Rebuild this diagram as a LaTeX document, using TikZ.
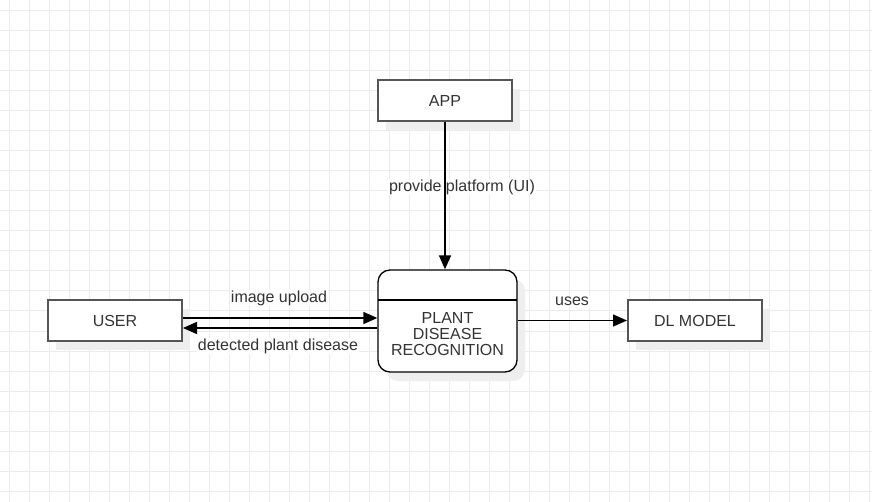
\documentclass[tikz,border=0pt]{standalone}
\usepackage{fontspec}
\setmainfont{Liberation Sans}
\usetikzlibrary{arrows.meta,shadows,calc}
\definecolor{gridc}{HTML}{EBEBEB}
\definecolor{boxc}{HTML}{555555}
\definecolor{txtc}{HTML}{333333}
\definecolor{shc}{HTML}{EEEEEE}
\tikzset{
  ent/.style={draw=boxc, line width=2pt, fill=white, minimum width=134pt, minimum height=41pt,
    inner sep=0pt, font=\fontsize{16}{18}\selectfont, text=txtc,
    drop shadow={shadow xshift=8pt, shadow yshift=-9pt, fill=shc, opacity=1}},
  proc/.style={draw=black, line width=1.3pt, fill=white, rounded corners=12pt, minimum width=139pt,
    minimum height=102pt, inner sep=0pt,
    drop shadow={shadow xshift=8pt, shadow yshift=-9pt, fill=shc, opacity=1}},
  proctext/.style={align=center, font=\fontsize{16}{16}\selectfont, text=txtc, inner sep=0pt},
  flow/.style={draw=black, line width=1.5pt, -{Triangle[length=14pt,width=12pt]}},
  lbl/.style={font=\fontsize{16}{18}\selectfont, text=txtc, inner sep=1pt, fill=white}
}
\begin{document}
\begin{tikzpicture}[x=1pt,y=-1pt]
\useasboundingbox (0,0) rectangle (872,502);
\fill[white] (0,0) rectangle (872,502);
% grid
\foreach \gx in {9,29,...,869} \draw[gridc, line width=1pt] (\gx,0) -- (\gx,502);
\foreach \gy in {11,31,...,491} \draw[gridc, line width=1pt] (0,\gy) -- (872,\gy);

% nodes
\node[ent] (app) at (445,100.5) {APP};
\node[ent] (user) at (115,320.5) {USER};
\node[ent] (dl) at (695,320.5) {DL MODEL};
\node[proc] (plant) at (447.5,321) {};
\coordinate (sepL) at (378,300);
\coordinate (sepR) at (517,300);
\draw[black, line width=1.3pt] (sepL) -- (sepR);
\node[proctext] (plantlbl) at (447.5,334) {PLANT\\DISEASE\\RECOGNITION};

% labels
\node[lbl] (l1) at (462,187) {provide platform (UI)};
\node[lbl] (l2) at (279,298) {image upload};
\node[lbl] (l3) at (278,346) {detected plant disease};
\node[lbl] (l4) at (572,301) {uses};

% connectors
\draw[flow] (app.south) -- (app.south |- plant.north);
\draw[flow] ([yshift=2.5pt]user.east) -- ([yshift=2.5pt]user.east -| plant.west);
\draw[flow] ([yshift=-7.5pt]user.east -| plant.west) -- ([yshift=-7.5pt]user.east);
\draw[flow] (plant.east |- dl.west) -- (dl.west);
\end{tikzpicture}
\end{document}
